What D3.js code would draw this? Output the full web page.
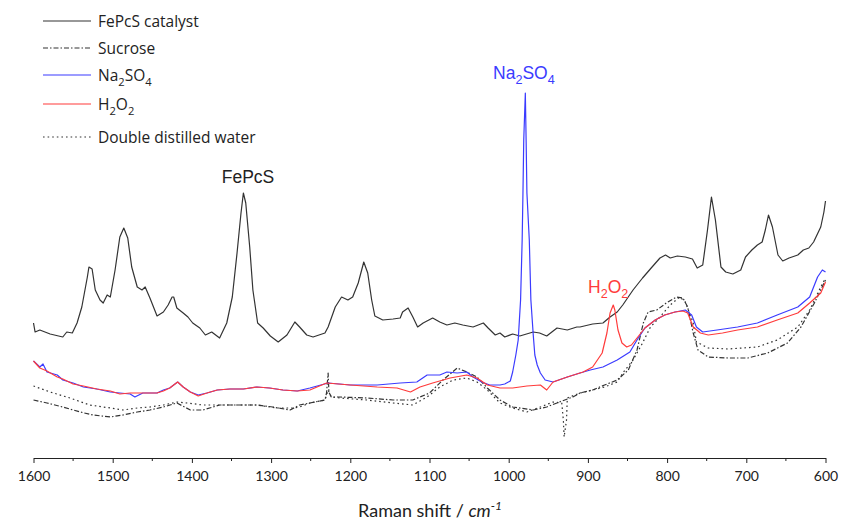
<!DOCTYPE html>
<html>
<head>
<meta charset="utf-8">
<script src="https://cdn.jsdelivr.net/npm/d3@7/dist/d3.min.js"></script>
<style>
  html, body { margin: 0; padding: 0; background: #fff; }
  svg { display: block; }
</style>
</head>
<body>
<svg id="chart" width="846" height="523"></svg>
<script>
// Raman shift (cm-1) and intensity (a.u.) pairs
const fepcsCatalyst = [
  [1600,135],[1598,126],[1592,128],[1579,124],[1563,121],[1558,126],[1551,125],[1545,135],[1539,151],[1532,181],
  [1530,191],[1526,189],[1522,168],[1516,158],[1512,155],[1507,163],[1503,161],[1497,188],[1491,221],[1486,230],
  [1481,220],[1476,191],[1469,171],[1463,168],[1459,171],[1453,160],[1444,142],[1436,146],[1430,153],[1425,161],
  [1423,161],[1419,150],[1411,145],[1405,141],[1399,135],[1390,130],[1383,123],[1375,126],[1365,120],[1356,135],
  [1349,161],[1343,205],[1338,245],[1335,265],[1332,255],[1327,211],[1323,168],[1317,135],[1310,130],[1301,122],
  [1291,116],[1280,123],[1270,136],[1264,131],[1255,123],[1247,121],[1232,125],[1228,131],[1219,151],[1211,161],
  [1203,158],[1197,161],[1190,175],[1183,196],[1178,185],[1173,158],[1169,142],[1159,138],[1146,139],[1137,140],
  [1134,146],[1127,150],[1121,141],[1115,131],[1108,135],[1096,140],[1087,136],[1078,133],[1068,135],[1058,133],
  [1045,131],[1032,135],[1026,130],[1017,123],[1011,125],[1005,121],[995,124],[986,122],[969,126],[961,125],
  [952,122],[939,130],[926,128],[914,131],[910,131],[894,134],[881,135],[872,141],[863,146],[856,153],
  [843,168],[831,180],[819,191],[809,200],[802,203],[796,200],[787,202],[777,201],[768,199],[762,190],
  [755,193],[749,228],[744,261],[739,238],[732,191],[726,186],[717,184],[707,188],[701,201],[693,208],
  [686,213],[680,216],[676,228],[672,243],[667,231],[660,203],[654,197],[646,200],[635,203],[628,208],
  [621,210],[615,216],[606,231],[602,246],[600,257]
];
const sucrose = [
  [1600,58],[1583,55],[1563,51],[1541,46],[1525,43],[1503,41],[1487,43],[1469,46],[1453,48],[1436,51],
  [1419,55],[1402,48],[1386,48],[1365,53],[1343,53],[1318,53],[1298,51],[1276,48],[1264,53],[1251,55],
  [1232,58],[1230,65],[1228,85],[1227,66],[1224,61],[1213,61],[1179,60],[1146,58],[1121,58],[1100,65],
  [1083,78],[1065,90],[1053,86],[1040,81],[1027,70],[1011,58],[995,51],[969,48],[952,51],[936,56],
  [919,61],[910,65],[894,68],[879,73],[863,78],[849,88],[838,108],[830,135],[824,146],[813,148],
  [801,155],[788,161],[780,160],[774,151],[767,125],[761,108],[748,101],[723,100],[698,100],[673,105],
  [648,115],[631,131],[614,155],[600,178]
];
const na2so4 = [
  [1600,97],[1592,91],[1588,94],[1583,86],[1570,83],[1563,78],[1550,75],[1537,71],[1520,69],[1503,66],
  [1491,65],[1478,64],[1472,61],[1462,65],[1444,65],[1436,68],[1428,70],[1418,76],[1411,71],[1402,66],
  [1392,63],[1381,65],[1368,68],[1352,69],[1335,69],[1318,71],[1302,70],[1285,68],[1267,67],[1251,70],
  [1228,75],[1200,73],[1166,73],[1137,75],[1116,76],[1103,83],[1087,83],[1078,86],[1065,85],[1053,86],
  [1045,81],[1034,76],[1024,73],[1011,73],[1005,74],[998,77],[995,86],[991,103],[988,118],[985,158],
  [983,218],[982,265],[981,318],[979,365],[978,318],[977,265],[974,218],[972,158],[969,123],[967,103],
  [964,93],[960,85],[954,78],[944,76],[926,81],[910,85],[897,88],[881,91],[863,98],[847,106],
  [838,118],[828,130],[815,138],[803,143],[790,146],[777,148],[769,143],[763,131],[755,126],[737,128],
  [711,131],[686,135],[661,143],[635,151],[620,161],[610,181],[604,188],[600,186]
];
const h2o2 = [
  [1600,97],[1592,90],[1583,87],[1570,81],[1563,79],[1550,74],[1537,72],[1520,69],[1503,67],[1491,64],
  [1478,65],[1462,65],[1444,65],[1436,67],[1428,70],[1418,76],[1411,71],[1402,66],[1392,62],[1381,65],
  [1368,68],[1352,69],[1335,69],[1318,71],[1302,70],[1285,68],[1267,67],[1251,68],[1230,75],[1200,73],
  [1166,71],[1141,70],[1124,66],[1112,71],[1096,75],[1074,80],[1053,83],[1040,80],[1027,73],[1011,70],
  [995,70],[977,72],[960,73],[952,68],[944,76],[926,81],[906,86],[894,91],[882,105],[876,125],
  [872,145],[868,153],[866,148],[862,128],[857,115],[851,111],[845,113],[838,120],[828,130],[815,138],
  [803,143],[790,146],[780,147],[774,145],[767,131],[758,125],[748,123],[730,125],[711,128],[686,131],
  [661,138],[635,145],[620,155],[606,165],[600,176]
];
const distilledWater = [
  [1600,72],[1579,66],[1554,60],[1529,53],[1503,50],[1487,48],[1469,50],[1453,51],[1436,53],[1419,56],
  [1406,55],[1386,53],[1368,53],[1343,53],[1318,53],[1293,50],[1272,50],[1264,51],[1251,55],[1232,58],
  [1228,68],[1224,61],[1213,60],[1179,58],[1146,55],[1121,53],[1103,61],[1087,71],[1070,78],[1053,80],
  [1040,76],[1027,68],[1011,55],[995,50],[977,46],[960,51],[944,56],[933,55],[931,38],[930,21],
  [927,38],[926,60],[910,65],[894,68],[879,71],[863,76],[856,85],[843,98],[831,115],[821,131],
  [809,141],[796,153],[784,161],[777,156],[767,135],[763,116],[748,110],[723,109],[686,111],[661,118],
  [635,131],[620,148],[606,171],[600,180]
];
const majorTicks = [1600,1500,1400,1300,1200,1100,1000,900,800,700,600];
const minorTicks = [1550,1450,1350,1250,1150,1050,950,850,750,650];
const legendLabels = ["FePcS catalyst","Sucrose","Na2SO4","H2O2","Double distilled water"];

const svg = d3.select("#chart");
const x = d3.scaleLinear().domain([1600, 600]).range([33.5, 825.5]);
const y = d3.scaleLinear().domain([0, 458]).range([458, 0]);

const series = [
  {data: fepcsCatalyst, color: "#333333", dash: null},
  {data: sucrose, color: "#333333", dash: "5,2,1.5,2"},
  {data: distilledWater, color: "#333333", dash: "1.6,3"},
  {data: na2so4, color: "#3b3bff", dash: null},
  {data: h2o2, color: "#ff3b3b", dash: null}
];
const line = d3.line().x(d => x(d[0])).y(d => y(d[1]));
series.forEach(s => {
  svg.append("path").attr("d", line(s.data)).attr("fill", "none")
    .attr("stroke", s.color).attr("stroke-width", 1.2)
    .attr("stroke-dasharray", s.dash).attr("stroke-linejoin", "round");
});

// axis
const axisG = svg.append("g").attr("transform", "translate(0,458)");
axisG.call(d3.axisBottom(x).tickValues(majorTicks).tickSize(5).tickSizeOuter(0).tickFormat(d3.format("d")));
axisG.selectAll("text").attr("font-family", "Lato, 'Open Sans', sans-serif").attr("font-size", "14px").attr("fill", "#222").attr("dy", "1.05em");
axisG.select(".domain").attr("stroke", "#222").attr("stroke-width", 1.2);
axisG.selectAll(".tick line").attr("stroke", "#222");
axisG.selectAll(".minor").data(minorTicks).enter().append("line")
  .attr("x1", d => x(d)).attr("x2", d => x(d)).attr("y1", 0).attr("y2", 3).attr("stroke", "#222");

const title = svg.append("text").attr("x", 430).attr("y", 517).attr("text-anchor", "middle")
  .attr("font-family", "Lato, 'Open Sans', sans-serif").attr("font-size", "18px").attr("fill", "#222");
title.append("tspan").text("Raman shift / ");
title.append("tspan").attr("font-style", "italic").text("cm");
title.append("tspan").attr("font-style", "italic").attr("font-size", "12px").attr("dy", "-7").text("-1");

// legend
const legendY = [21, 48, 75, 104, 137];
const sub = (el, txt) => {
  // render chemical formula with subscript digits
  const parts = txt.match(/[A-Za-z]+|\d+/g);
  let lowered = false;
  parts.forEach(p => {
    if (/^\d+$/.test(p)) { el.append("tspan").attr("font-size", "0.72em").attr("dy", "5").text(p); lowered = true; }
    else { el.append("tspan").attr("dy", lowered ? "-5" : "0").text(p); lowered = false; }
  });
};
const legendOrder = [0, 1, 3, 4, 2];
legendOrder.forEach((si, i) => {
  const s = series[si];
  const yy = legendY[i];
  svg.append("line").attr("x1", 43).attr("x2", 91).attr("y1", yy).attr("y2", yy)
    .attr("stroke", s.color).attr("stroke-width", 1.2).attr("stroke-dasharray", s.dash);
  const t = svg.append("text").attr("x", 98).attr("y", yy + 5.5)
    .attr("font-family", "'Open Sans', Lato, sans-serif").attr("font-size", "15.5px").attr("fill", "#222");
  const lbl = legendLabels[i];
  if (lbl === "Na2SO4" || lbl === "H2O2") sub(t, lbl); else t.text(lbl);
});

// annotations
svg.append("text").attr("x", 248).attr("y", 183).attr("text-anchor", "middle")
  .attr("font-family", "'Liberation Sans', Arial, sans-serif").attr("font-size", "17.5px").attr("fill", "#222").text("FePcS");
const a2 = svg.append("text").attr("x", 493).attr("y", 79)
  .attr("font-family", "'Liberation Sans', Arial, sans-serif").attr("font-size", "17.5px").attr("fill", "#3b3bff");
sub(a2, "Na2SO4");
const a3 = svg.append("text").attr("x", 588).attr("y", 293)
  .attr("font-family", "'Liberation Sans', Arial, sans-serif").attr("font-size", "17.5px").attr("fill", "#ff3b3b");
sub(a3, "H2O2");
</script>
</body>
</html>
